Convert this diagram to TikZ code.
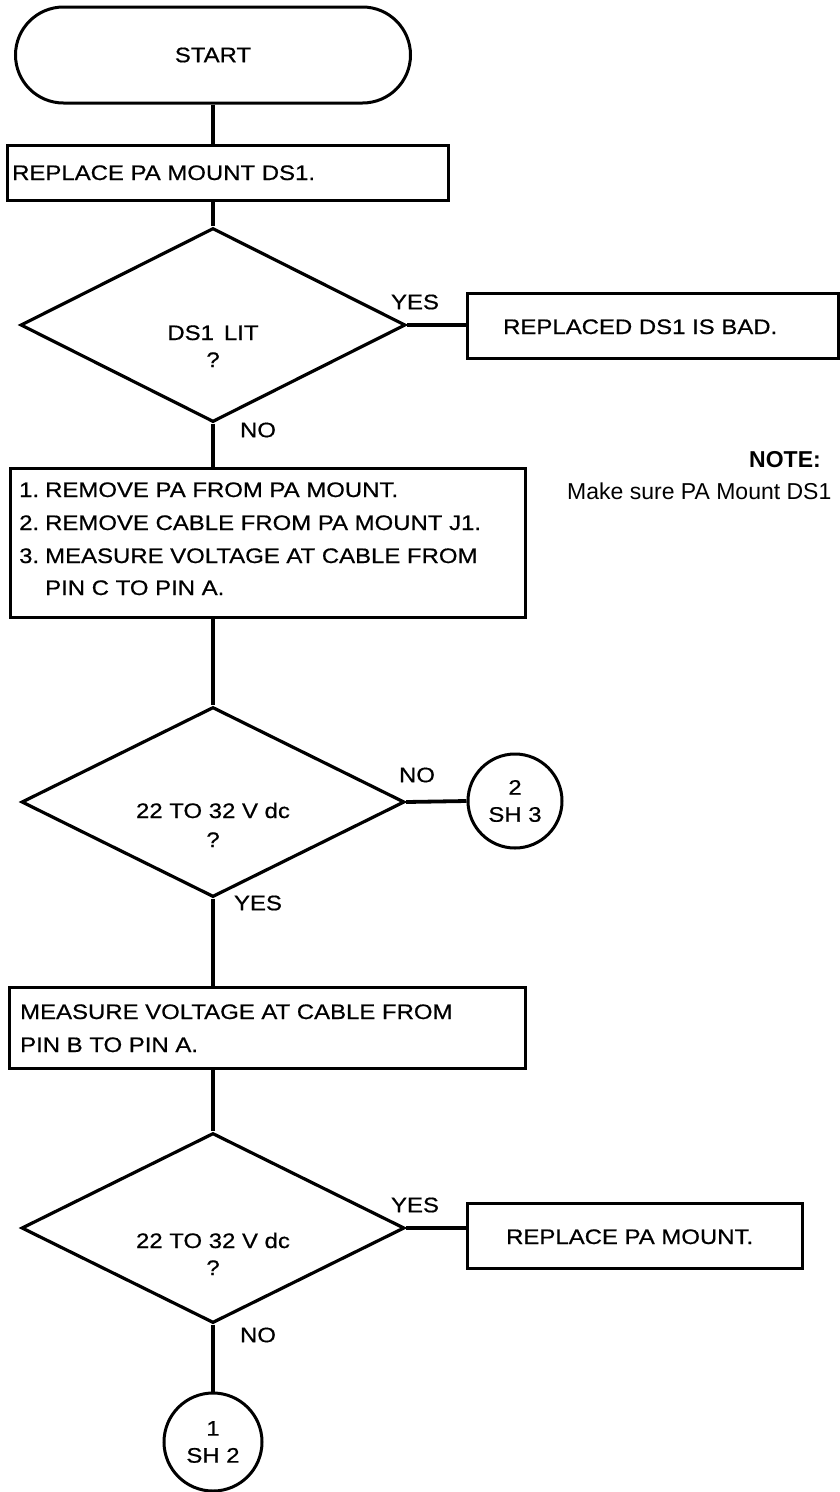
\documentclass[tikz,border=0pt]{standalone}
\usepackage{fontspec}
\setmainfont{Liberation Sans}
\newfontfamily\flowfont[FakeStretch=1.14,FakeBold=0.6]{Liberation Sans}
\usetikzlibrary{shapes.geometric,shapes.misc}
\begin{document}
\begin{tikzpicture}[x=1pt,y=-1pt,
  flow/.style={font=\flowfont\fontsize{21}{27}\selectfont, inner sep=0pt},
  box/.style={draw, line width=3pt, rectangle, inner sep=0pt},
  dec/.style={draw, line width=3.2pt, diamond, inner sep=0pt, aspect=2},
  conn/.style={line width=3.8pt},
  conncircle/.style={draw, line width=3pt, circle, inner sep=0pt, align=center,
    font=\flowfont\fontsize{21}{27}\selectfont},
  notefont/.style={font=\fontsize{23}{28}\selectfont, inner sep=0pt}]
\useasboundingbox (0,0) rectangle (840,1492);

% START terminal
\node[draw, line width=3pt, rounded rectangle, minimum width=395pt, minimum height=96pt,
      inner sep=0pt, flow] (start) at (213,55) {START};

% box 1
\node[box, minimum width=441pt, minimum height=55pt] (box1) at (227.5,172.5) {};
\node[flow, anchor=base west] (box1t) at (12,180) {REPLACE PA MOUNT DS1.};

% decision 1
\node[dec, minimum width=385pt, minimum height=194pt] (d1) at (213,325) {};
\node[flow, anchor=base] (d1a) at (213,340) {DS1\hspace{10pt}LIT};
\node[flow, anchor=base] (d1b) at (213,367) {?};
\node[flow] (d1yes) at (415,302) {YES};
\node[flow] (d1no) at (258,430) {NO};

% replaced DS1 is bad
\node[box, minimum width=371pt, minimum height=65pt] (bad) at (652.5,325.5) {};
\node[flow, anchor=base west] (badt) at (503,334) {REPLACED DS1 IS BAD.};

% box 2
\node[box, minimum width=515pt, minimum height=149pt] (box2) at (267.5,542.5) {};
\node[flow, anchor=base west] (n1) at (19,497) {1.};
\node[flow, anchor=base west] (l1) at (45,497) {REMOVE PA FROM PA MOUNT.};
\node[flow, anchor=base west] (n2) at (19,530) {2.};
\node[flow, anchor=base west] (l2) at (45,530) {REMOVE CABLE FROM PA MOUNT J1.};
\node[flow, anchor=base west] (n3) at (19,563) {3.};
\node[flow, anchor=base west] (l3) at (45,563) {MEASURE VOLTAGE AT CABLE FROM};
\node[flow, anchor=base west] (l4) at (45,595) {PIN C TO PIN A.};

% note
\node[notefont, font=\bfseries\fontsize{23}{28}\selectfont, anchor=base west] (note) at (749,467) {NOTE:};
\node[notefont, anchor=base west] (notet) at (567,499) {Make sure PA Mount DS1};

% decision 2
\node[dec, minimum width=383pt, minimum height=190pt] (d2) at (213,802) {};
\node[flow, anchor=base] (d2a) at (213,818) {22 TO 32 V dc};
\node[flow, anchor=base] (d2b) at (213,847) {?};
\node[flow] (d2no) at (417,775) {NO};
\node[flow] (d2yes) at (258,903) {YES};
\node[conncircle, minimum size=94pt] (c2) at (515,801) {2\\SH 3};

% box 3
\node[box, minimum width=516pt, minimum height=81pt] (box3) at (267,1027.5) {};
\node[flow, anchor=base west] (b3a) at (20,1019) {MEASURE VOLTAGE AT CABLE FROM};
\node[flow, anchor=base west] (b3b) at (20,1052) {PIN B TO PIN A.};

% decision 3
\node[dec, minimum width=383pt, minimum height=190pt] (d3) at (213,1228) {};
\node[flow, anchor=base] (d3a) at (213,1248) {22 TO 32 V dc};
\node[flow, anchor=base] (d3b) at (213,1275) {?};
\node[flow] (d3yes) at (415,1205) {YES};
\node[flow] (d3no) at (258,1335) {NO};

% replace PA mount
\node[box, minimum width=335pt, minimum height=65pt] (pa) at (634.5,1235.5) {};
\node[flow, anchor=base west] (pat) at (506,1244) {REPLACE PA MOUNT.};

% off-page connector 1
\node[conncircle, minimum size=98pt] (c1) at (213,1442) {1\\SH 2};

% connectors
\draw[conn] (start.south) -- (start.south |- box1.north);
\draw[conn] (d1.north |- box1.south) -- (d1.north);
\draw[conn] (d1.east) -- (d1.east -| bad.west);
\draw[conn] (d1.south) -- (d1.south |- box2.north);
\draw[conn] (d2.north |- box2.south) -- (d2.north);
\draw[conn] (d2.east) -- (c2.west);
\draw[conn] (d2.south) -- (d2.south |- box3.north);
\draw[conn] (d3.north |- box3.south) -- (d3.north);
\draw[conn] (d3.east) -- (d3.east -| pa.west);
\draw[conn] (d3.south) -- (c1.north);
\end{tikzpicture}
\end{document}
